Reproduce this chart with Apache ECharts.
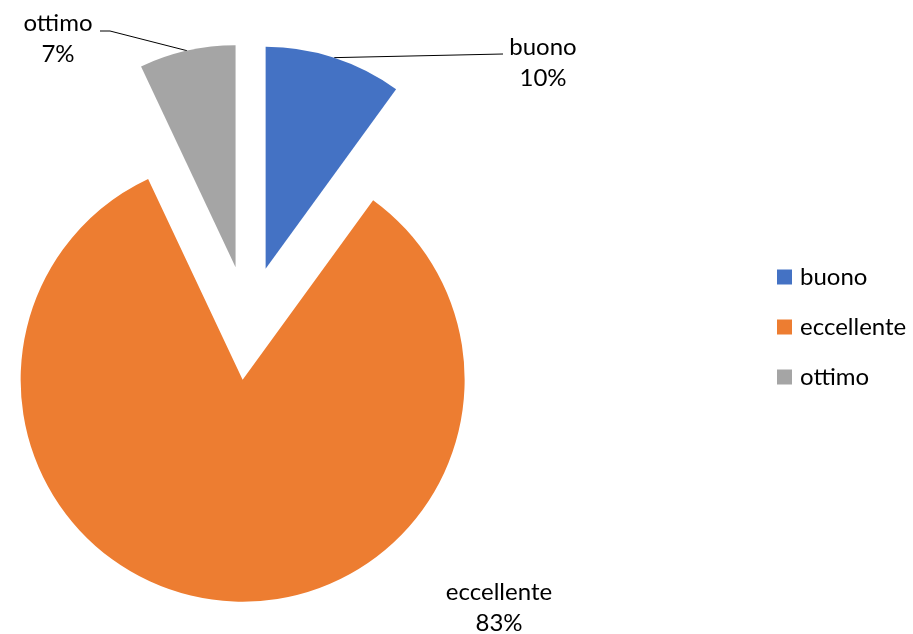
<!DOCTYPE html>
<html>
<head>
<meta charset="utf-8">
<script src="https://cdn.jsdelivr.net/npm/echarts@6/dist/echarts.min.js"></script>
<style>
  html, body { margin: 0; padding: 0; background: #fff; }
  #chart { width: 913px; height: 634px; }
</style>
</head>
<body>
<div id="chart"></div>
<script>
// dati del grafico
var categories = ['buono', 'eccellente', 'ottimo'];
var values = [10, 83, 7];
var colors = ['#4472C4', '#ED7D31', '#A5A5A5'];

var FONT = 'Lato, "Liberation Sans", sans-serif';

// centro della torta e distanza di esplosione delle fette
var pieCenter = [248, 323];
var pieRadius = 222;
var explode = 57;

// posizione delle etichette (come in Excel)
var labelSpots = [
  { x: 543, y: 63, line: [[503, 54]] },
  { x: 499, y: 608, line: null },
  { x: 58, y: 39, line: [[110, 31], [100, 31]] }
];

var chart = echarts.init(document.getElementById('chart'));

var total = values.reduce(function (a, b) { return a + b; }, 0);

// una serie per fetta, spostata lungo la bisettrice (fetta esplosa)
var series = [];
var cum = 0;
categories.forEach(function (name, i) {
  var mid = (cum + values[i] / 2) / total * 2 * Math.PI;
  cum += values[i];
  var cx = pieCenter[0] + explode * Math.sin(mid);
  var cy = pieCenter[1] - explode * Math.cos(mid);
  var spot = labelSpots[i];
  series.push({
    type: 'pie',
    center: [cx, cy],
    radius: pieRadius,
    startAngle: 90,
    clockwise: true,
    avoidLabelOverlap: false,
    silent: true,
    emphasis: { disabled: true },
    label: {
      show: true,
      position: 'outside',
      formatter: '{b}\n{d}%',
      fontFamily: FONT,
      fontSize: 24,
      lineHeight: 31,
      color: '#000',
      align: 'center'
    },
    labelLine: {
      show: !!spot.line,
      length: 5,
      length2: 5,
      lineStyle: { color: '#000', width: 1 }
    },
    labelLayout: function (params) {
      if (params.dataIndex !== i) return {};
      var out = { x: spot.x, y: spot.y, align: 'center', verticalAlign: 'middle' };
      if (spot.line && params.labelLinePoints) {
        var pts = [params.labelLinePoints[0]].concat(spot.line);
        if (pts.length === 2) pts.push(spot.line[0]);
        out.labelLinePoints = pts;
      }
      return out;
    },
    data: categories.map(function (n, j) {
      if (j === i) {
        return { name: n, value: values[j], itemStyle: { color: colors[j] } };
      }
      return {
        name: '',
        value: values[j],
        itemStyle: { color: 'rgba(0,0,0,0)' },
        label: { show: false },
        labelLine: { show: false }
      };
    })
  });
});

var option = {
  animation: false,
  legend: {
    orient: 'vertical',
    left: 777,
    top: 265,
    padding: 0,
    itemWidth: 15,
    itemHeight: 15,
    itemGap: 26,
    icon: 'rect',
    selectedMode: false,
    textStyle: { fontFamily: FONT, fontSize: 24, lineHeight: 24, color: '#000', padding: [0, 0, 0, 3] },
    data: categories.map(function (n, i) {
      return { name: n, itemStyle: { color: colors[i] } };
    })
  },
  series: series
};

chart.setOption(option);
</script>
</body>
</html>
